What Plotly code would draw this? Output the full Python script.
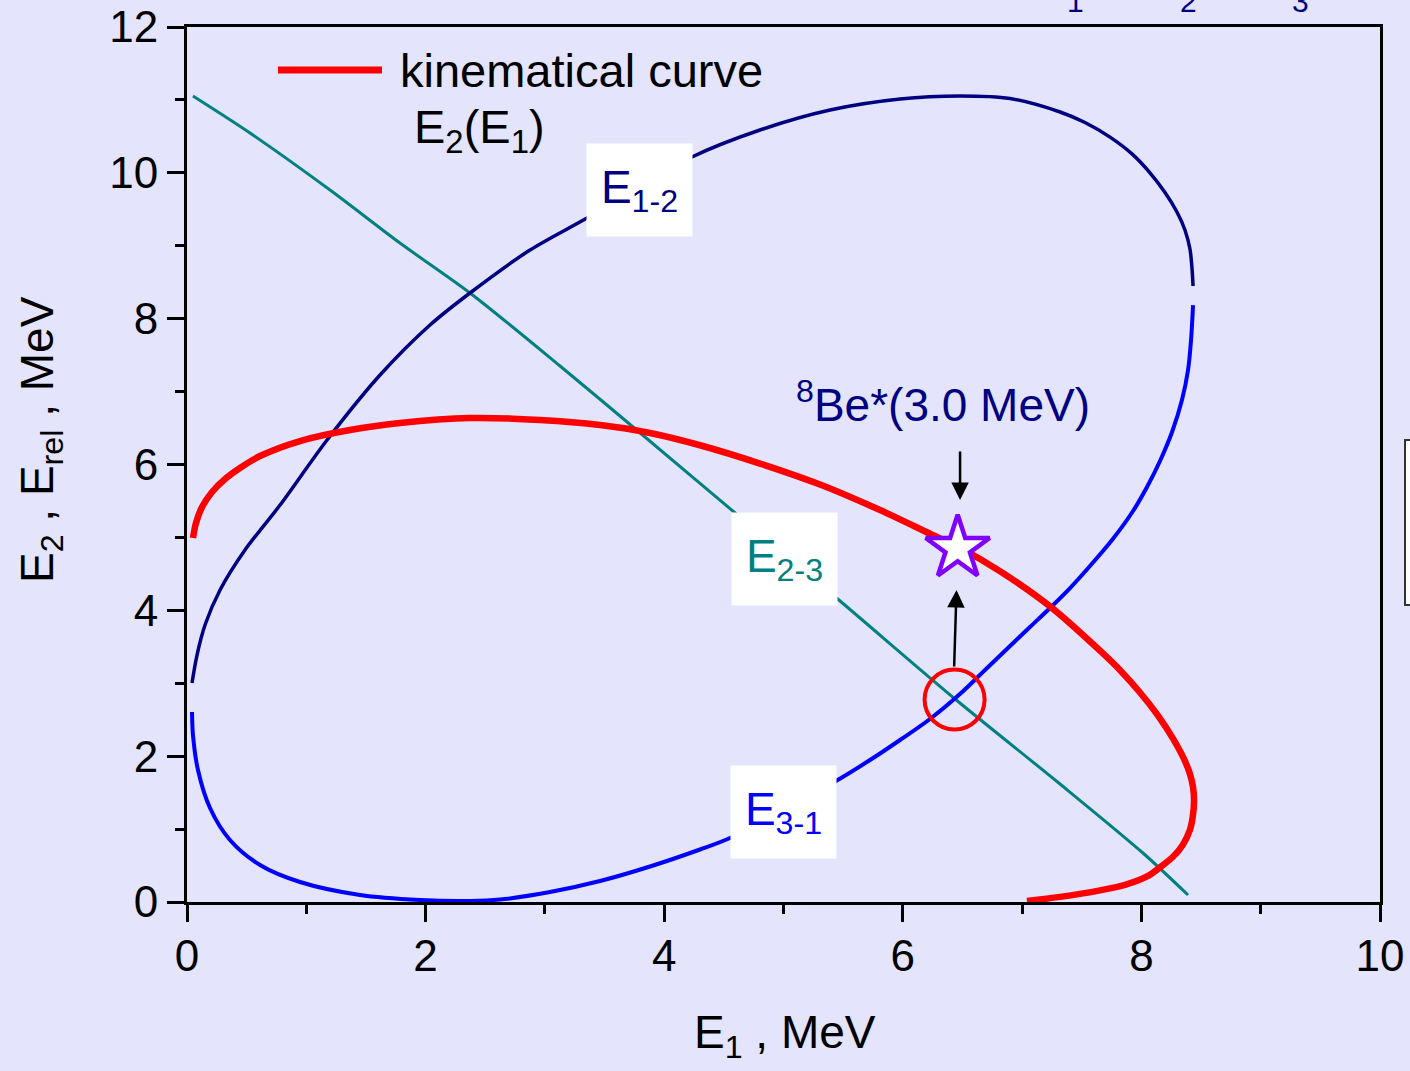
import plotly.graph_objects as go

# Kinematical locus E2(E1), MeV
kin_e1 = [0.050, 0.075, 0.126, 0.210, 0.319, 0.444, 0.612, 0.947, 1.366, 1.785,
          2.372, 2.959, 3.462, 3.881, 4.300, 4.803, 5.306, 5.809, 6.228, 6.479,
          6.815, 7.234, 7.653, 7.837, 7.988, 8.139, 8.265, 8.349, 8.407, 8.433,
          8.441, 8.433, 8.407, 8.349, 8.265, 8.156, 8.047, 7.863, 7.653, 7.318, 7.041]
kin_e2 = [4.992, 5.197, 5.417, 5.623, 5.801, 5.952, 6.116, 6.322, 6.473, 6.569,
          6.637, 6.610, 6.541, 6.432, 6.264, 6.013, 5.725, 5.375, 5.050, 4.855,
          4.536, 4.054, 3.446, 3.152, 2.873, 2.556, 2.241, 1.989, 1.757, 1.575,
          1.399, 1.200, 0.990, 0.790, 0.620, 0.475, 0.350, 0.235, 0.160, 0.070, 0.014]

# Relative energy of particles 1 and 2 along the locus
e12_e1 = [0.042, 0.084, 0.151, 0.277, 0.486, 0.780, 1.174, 1.618, 2.037, 2.372,
          2.875, 3.353, 4.233, 4.803, 5.390, 5.977, 6.479, 6.899, 7.318, 7.527,
          7.737, 7.921, 8.072, 8.198, 8.298, 8.365, 8.407, 8.424, 8.433]
e12_val = [3.003, 3.387, 3.799, 4.279, 4.827, 5.444, 6.336, 7.227, 7.913, 8.352,
           8.941, 9.380, 10.217, 10.587, 10.861, 11.012, 11.053, 11.019, 10.834, 10.690,
           10.490, 10.260, 10.000, 9.730, 9.462, 9.216, 8.955, 8.695, 8.448]

# Relative energy of particles 3 and 1
e31_e1 = [8.433, 8.416, 8.391, 8.340, 8.257, 8.156, 8.047, 7.930, 7.754, 7.569,
          7.402, 7.234, 7.066, 6.899, 6.689, 6.479, 6.228, 5.977, 5.725, 5.440,
          4.971, 4.552, 4.300, 3.881, 3.462, 3.043, 2.624, 2.372, 1.953, 1.450,
          0.947, 0.612, 0.360, 0.193, 0.092, 0.050, 0.042]
e31_val = [8.187, 7.707, 7.296, 6.884, 6.445, 6.048, 5.691, 5.362, 4.964, 4.608,
           4.306, 4.032, 3.771, 3.511, 3.182, 2.852, 2.510, 2.222, 1.947, 1.659,
           1.234, 0.878, 0.720, 0.487, 0.288, 0.137, 0.034, 0.014, 0.027, 0.096,
           0.274, 0.507, 0.850, 1.289, 1.810, 2.290, 2.606]

# Relative energy of particles 2 and 3
e23_e1 = [0.050, 0.528, 1.199, 1.785, 2.372, 3.127, 3.839, 4.635, 5.474, 6.438,
          7.318, 8.013, 8.391]
e23_val = [11.053, 10.546, 9.764, 9.037, 8.352, 7.351, 6.377, 5.280, 4.128, 2.784,
           1.618, 0.672, 0.096]

# 8Be*(3.0 MeV) point on the locus and the matching E2-3 crossing
be8_point = (6.46, 4.85)
cross_point = (6.434, 2.777)

x_ticks = [0, 2, 4, 6, 8, 10]
y_ticks = [0, 2, 4, 6, 8, 10, 12]

NAVY = "#000080"
BLUE = "#0000FF"
TEAL = "#008080"
RED = "#FF0000"
FONT = "Arial, Liberation Sans, sans-serif"

# plot-area geometry in pixels, used to place paper-referenced decorations
L, R, T, B = 187, 1380, 27, 902
def px_x(px):
    return (px - L) / (R - L)
def px_y(py):
    return (B - py) / (B - T)

fig = go.Figure()

fig.add_trace(go.Scatter(x=e23_e1, y=e23_val, mode="lines",
                         line=dict(color=TEAL, width=3, shape="spline", smoothing=0.8)))
fig.add_trace(go.Scatter(x=e12_e1, y=e12_val, mode="lines",
                         line=dict(color=NAVY, width=3.5, shape="spline", smoothing=0.9)))
fig.add_trace(go.Scatter(x=e31_e1, y=e31_val, mode="lines",
                         line=dict(color=BLUE, width=4, shape="spline", smoothing=0.9)))
fig.add_trace(go.Scatter(x=kin_e1, y=kin_e2, mode="lines",
                         line=dict(color=RED, width=6.5, shape="spline", smoothing=0.9)))

# circle around the crossing, star on the locus
fig.add_trace(go.Scatter(x=[cross_point[0]], y=[cross_point[1]], mode="markers",
                         marker=dict(symbol="circle", size=60, color="rgba(0,0,0,0)",
                                     line=dict(color=RED, width=4))))
fig.add_trace(go.Scatter(x=[be8_point[0]], y=[be8_point[1]], mode="markers",
                         marker=dict(symbol="star", size=48, color="white",
                                     line=dict(color="#8000FF", width=4.5))))

annotations = []

# boxed curve labels
def box_label(x, y, main, sub, color):
    return dict(x=x, y=y, xref="x", yref="y", showarrow=False,
                text=f"{main}<sub>{sub}</sub>", bgcolor="white",
                width=105, height=92, borderpad=0,
                font=dict(family=FONT, size=46, color=color))

annotations.append(box_label(3.79, 9.76, "E", "1-2", NAVY))
annotations.append(box_label(5.01, 4.70, "E", "2-3", TEAL))
annotations.append(box_label(5.00, 1.234, "E", "3-1", BLUE))

# arrows pointing to the star
annotations.append(dict(x=6.48, y=5.513, ax=6.48, ay=6.199, xref="x", yref="y",
                        axref="x", ayref="y", text="", showarrow=True,
                        arrowhead=2, arrowsize=1.4, arrowwidth=2.5, arrowcolor="black"))
annotations.append(dict(x=6.45, y=4.279, ax=6.43, ay=3.209, xref="x", yref="y",
                        axref="x", ayref="y", text="", showarrow=True,
                        arrowhead=2, arrowsize=1.4, arrowwidth=2.5, arrowcolor="black"))

annotations.append(dict(x=6.337, y=6.857, xref="x", yref="y", showarrow=False,
                        text="<sup>8</sup>Be*(3.0 MeV)",
                        font=dict(family=FONT, size=46, color=NAVY)))

# legend entry
annotations.append(dict(x=px_x(398), y=px_y(70), xref="paper", yref="paper",
                        xanchor="left", yanchor="middle", showarrow=False,
                        text="kinematical curve",
                        font=dict(family=FONT, size=47, color="black")))
annotations.append(dict(x=px_x(412), y=px_y(130), xref="paper", yref="paper",
                        xanchor="left", yanchor="middle", showarrow=False,
                        text="E<sub>2</sub>(E<sub>1</sub>)",
                        font=dict(family=FONT, size=47, color="black")))

# axis titles
annotations.append(dict(x=px_x(785), y=px_y(1035), xref="paper", yref="paper",
                        xanchor="center", yanchor="middle",
                        showarrow=False, text="E<sub>1</sub> , MeV",
                        font=dict(family=FONT, size=46, color="black")))
annotations.append(dict(x=px_x(40), y=px_y(440), xref="paper", yref="paper",
                        xanchor="center", yanchor="middle",
                        showarrow=False, textangle=-90,
                        text="E<sub>2</sub> , E<sub>rel</sub> , MeV",
                        font=dict(family=FONT, size=46, color="black")))

# subscripts of a heading running off the top edge
for px, s in [(1075, "1"), (1188, "2"), (1300, "3")]:
    annotations.append(dict(x=px_x(px), y=px_y(20), xref="paper", yref="paper",
                            xanchor="center", yanchor="bottom", showarrow=False, text=s,
                            font=dict(family=FONT, size=30, color=NAVY)))

shapes = [
    dict(type="line", xref="paper", yref="paper",
         x0=px_x(278), x1=px_x(382), y0=px_y(70), y1=px_y(70),
         line=dict(color=RED, width=7)),
    dict(type="rect", xref="paper", yref="paper",
         x0=px_x(1405), x1=px_x(1450), y0=px_y(605), y1=px_y(440),
         line=dict(color="#333333", width=2), fillcolor="white"),
]

axis_common = dict(showgrid=False, zeroline=False, showline=True, linecolor="black",
                   linewidth=3, mirror=True, ticks="outside", ticklen=17, tickwidth=3,
                   tickcolor="black", automargin=False,
                   tickfont=dict(family=FONT, size=44, color="black"))

fig.update_layout(
    width=1410, height=1071,
    margin=dict(l=L, r=1410 - R, t=T, b=1071 - B),
    paper_bgcolor="#E4E4FC", plot_bgcolor="#E4E4FC",
    showlegend=False,
    xaxis=dict(range=[0, 10], tickvals=x_ticks, ticklabelstandoff=-4,
               minor=dict(dtick=1, ticks="outside", ticklen=9, tickwidth=3, tickcolor="black"),
               **axis_common),
    yaxis=dict(range=[0, 12], tickvals=y_ticks,
               minor=dict(dtick=1, ticks="outside", ticklen=9, tickwidth=3, tickcolor="black"),
               **axis_common),
    annotations=annotations,
    shapes=shapes,
)

fig.write_html("out.html")
